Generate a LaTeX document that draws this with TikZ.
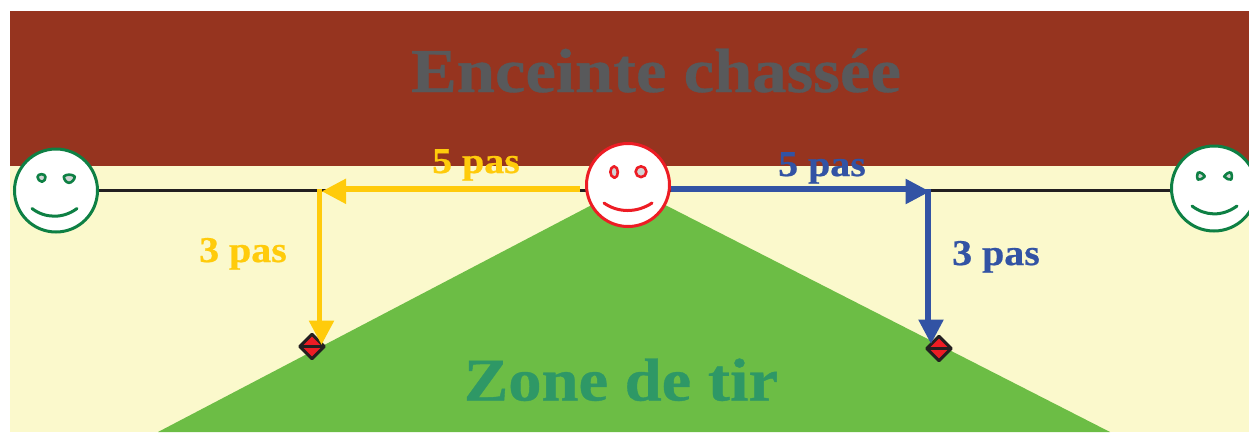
\documentclass[tikz,border=0pt]{standalone}
\usepackage{fontspec}
\setmainfont[BoldFeatures={FakeStretch=1.1,FakeBold=0.6}]{Liberation Serif}
\usetikzlibrary{arrows.meta,shapes.geometric}
\definecolor{brownz}{HTML}{96341F}
\definecolor{creamz}{HTML}{FBF9CC}
\definecolor{greenz}{HTML}{6CBD45}
\definecolor{yelz}{HTML}{FFCB0B}
\definecolor{bluez}{HTML}{3253A4}
\definecolor{facegreen}{HTML}{0E8044}
\definecolor{facered}{HTML}{ED1C24}
\definecolor{titlegrey}{HTML}{58595B}
\definecolor{titlegreen}{HTML}{2E9866}
\definecolor{eyegrey}{HTML}{D1D3D4}
\definecolor{linez}{HTML}{231F20}
\tikzset{
  x=1pt,y=-1pt,
  face/.style={circle,draw,fill=white,line width=3pt,minimum size=83pt,inner sep=0pt},
  title/.style={font=\bfseries\fontsize{62.4}{62}\selectfont,inner sep=0pt,anchor=base},
  zonet/.style={font=\bfseries\fontsize{60.5}{62}\selectfont,inner sep=0pt,anchor=base},
  lab/.style={font=\bfseries\fontsize{36.3}{36}\selectfont,inner sep=0pt,anchor=base},
  arr/.style={line width=5.6pt,-{Triangle[length=24.5pt,width=24pt]}},
  shaft/.style={line width=5.6pt},
  marker/.style={diamond,draw=linez,fill=facered,line width=3pt,line join=round,minimum size=24.5pt,inner sep=0pt,outer sep=0pt},
  eye/.style={fill=eyegrey,line width=2.6pt,line join=round},
  smile/.style={line width=3pt,line cap=round}
}
\begin{document}
\begin{tikzpicture}
\useasboundingbox (0,0) rectangle (1249,432);
\begin{scope}
\clip (0,0) rectangle (1249,432);
\fill[creamz] (10,166) rectangle (1249,432);
\fill[brownz] (10,11) rectangle (1249,166);
\fill[greenz] (628,186) -- (1110,432) -- (158,432) -- cycle;
\node[title,text=titlegrey] (t1) at (656,92) {Enceinte chassée};
\node[zonet,text=titlegreen] (t2) at (621,400.5) {Zone de tir};
% faces
\node[face,draw=facegreen] (fl) at (56,190.5) {};
\node[face,draw=facegreen,minimum size=85pt] (fr) at (1214,188.5) {};
\coordinate (cl) at (320,189);
\coordinate (cr) at (928.2,189);
\draw[linez,line width=3pt] (fl.east) -- (fr.west |- fl.east);
\node[face,draw=facered] (fc) at (628,185) {};
\node[marker] (ml) at (312,346.5) {};
\draw[linez,line width=2.6pt] (ml.west) -- (ml.east);
\node[marker] (mr) at (939,348.5) {};
\draw[linez,line width=2.6pt] (mr.west) -- (mr.east);
% yellow arrows
\draw[yelz,shaft] (580,189) -- (340,189);
\coordinate (hyl) at (321.7,191.3);
\draw[yelz,shaft] (319.5,189.3) -- (319.5,330);
\draw[yelz,arr] (340,191.3) -- (hyl);
\coordinate (ly) at (321.5,345);
\draw[yelz,arr] (321.5,330) -- (ly);
% blue arrows
\draw[bluez,shaft] (fc.east |- cr) -- (915,189);
\draw[bluez,shaft] (cr |- 0,189.3) -- (928.2,330);
\coordinate (hbr) at (930,191.5);
\draw[bluez,arr] (912,191.5) -- (hbr);
\coordinate (lb) at (931,344);
\draw[bluez,arr] (931,330) -- (lb);
% face details
\draw[facegreen,eye] (37.5,177) .. controls (37.7,173.2) and (45.3,173.2) .. (45.5,177) .. controls (45.6,179) and (44,181.8) .. (42,181.8) .. controls (40,181.8) and (37.3,179) .. (37.5,177) -- cycle;
\draw[facegreen,eye] (63.8,176.5) .. controls (66,174) and (72,174) .. (74.8,176.5) .. controls (74.8,179.5) and (71.5,182.8) .. (69,182.8) .. controls (66.5,182.8) and (63.8,179.5) .. (63.8,176.5) -- cycle;
\draw[facegreen,smile] (32,208.5) .. controls (45,218.5) and (63,219) .. (77,208.5);
\draw[facegreen,eye] (1197.8,172.8) .. controls (1200,171.2) and (1204.3,174.8) .. (1204.8,176.5) .. controls (1203,178.8) and (1200,180) .. (1197.8,179.6) .. controls (1196.8,177.5) and (1196.8,175.5) .. (1197.8,172.8) -- cycle;
\draw[facegreen,eye] (1231.2,172.8) .. controls (1229,171.2) and (1225.2,174.8) .. (1224.2,176.5) .. controls (1226,178.8) and (1229,180) .. (1231.2,179.6) .. controls (1232.2,177.5) and (1232.2,175.5) .. (1231.2,172.8) -- cycle;
\draw[facegreen,smile] (1192,206) .. controls (1205,216) and (1222,217) .. (1237,206);
\draw[facered,eye] (614,166.3) .. controls (609,167.3) and (609.2,176.8) .. (614.5,177.8) .. controls (619,177.8) and (619,166.3) .. (614,166.3) -- cycle;
\draw[facered,eye] (641,171.7) circle[radius=5.4];
\draw[facered,smile] (604,203) .. controls (618,213) and (637,213) .. (652,203);
% labels
\node[lab,text=yelz] (a) at (476,173) {5 pas};
\node[lab,text=bluez] (b) at (822,176) {5 pas};
\node[lab,text=yelz] (c) at (243,262) {3 pas};
\node[lab,text=bluez] (d) at (996,265) {3 pas};
\end{scope}
\end{tikzpicture}
\end{document}
